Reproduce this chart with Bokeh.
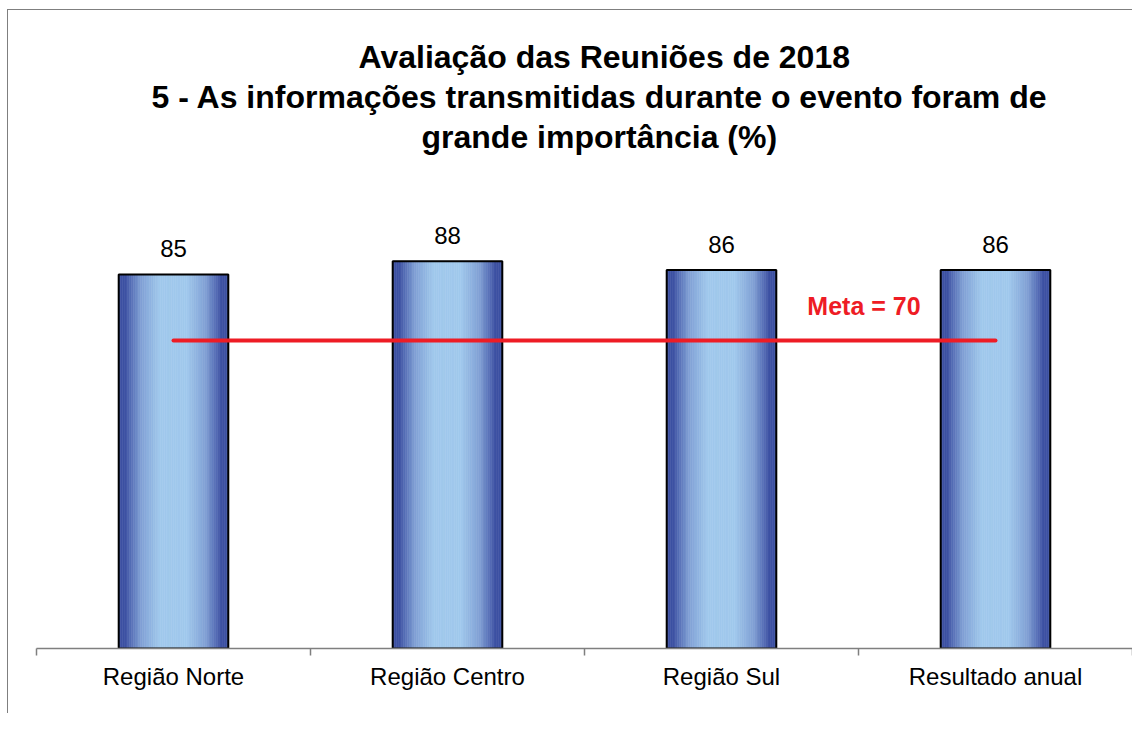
from bokeh.plotting import figure
from bokeh.models import Title, FixedTicker, ColumnDataSource, LinearAxis, Range1d
from bokeh.core.properties import value
from bokeh.embed import file_html
from bokeh.resources import INLINE

title_lines = ["Avaliação das Reuniões de 2018",
               "5 - As informações transmitidas durante o evento foram de",
               "grande importância (%)"]
categories = ["Região Norte", "Região Centro", "Região Sul", "Resultado anual"]
values = [85, 88, 86, 86]
meta = 70
meta_label = "Meta = 70"

FONT = "Liberation Sans"
W = 1132
H = 713

p = figure(width=W, height=H, output_backend="svg", toolbar_location=None,
           x_range=Range1d(0, len(categories)), y_range=Range1d(0, 100),
           y_axis_location=None, x_axis_location=None,
           min_border_left=36, min_border_right=0, min_border_top=208,
           min_border_bottom=65)
p.styles = {
    "background": "linear-gradient(#7f7f7f,#7f7f7f) 7px 9px / 1px 100% no-repeat, "
                  "linear-gradient(#7f7f7f,#7f7f7f) 7px 9px / 100% 1px no-repeat, white",
}
p.xgrid.visible = False
p.ygrid.visible = False
p.outline_line_color = None
p.background_fill_color = None
p.border_fill_color = None

# spacer between title and plot area, then the three title lines
spacer = Title(text=" ", text_font=FONT, text_font_size="10px", standoff=40)
p.add_layout(spacer, "above")
offsets = [385, 115, 322]   # left positions of lines 3, 2, 1 relative to the plot area
for txt, off in zip(reversed(title_lines), offsets):
    t = Title(text=txt, align="left", text_font=FONT, text_font_size="32px",
              text_font_style="bold", text_color="black", standoff=2, offset=off)
    p.add_layout(t, "above")

# axis
centers = [i + 0.5 for i in range(len(categories))]
ax = LinearAxis(ticker=FixedTicker(ticks=centers, minor_ticks=list(range(len(categories) + 1))),
                major_label_overrides={c: lab for c, lab in zip(centers, categories)})
ax.axis_line_color = "#7f7f7f"
ax.axis_line_width = 1.5
ax.major_tick_line_color = None
ax.minor_tick_line_color = "#7f7f7f"
ax.minor_tick_line_width = 1.5
ax.minor_tick_in = 0
ax.minor_tick_out = 7
ax.major_tick_in = 0
ax.major_tick_out = 7
ax.major_label_standoff = 7
ax.major_label_text_font = FONT
ax.major_label_text_font_size = "24px"
ax.major_label_text_color = "black"
p.add_layout(ax, "below")

# gradient bars
bar_w = 0.40
N = 60
dark = (0x3d, 0x51, 0xa3)
mid = (0x7f, 0x9e, 0xd4)
light = (0xa0, 0xc8, 0xec)

def col(t):
    # t: 0 at centre, 1 at edge
    if t < 0.25:
        a, b, u = light, light, 0
    elif t < 0.6:
        a, b, u = light, mid, (t - 0.25) / 0.35
    else:
        a, b, u = mid, dark, min(1.0, (t - 0.6) / 0.28)
    return "#%02x%02x%02x" % tuple(int(round(a[k] + (b[k] - a[k]) * u)) for k in range(3))

xs, tops, cols = [], [], []
for i, v in enumerate(values):
    for j in range(N):
        off = -bar_w / 2 + (j + 0.5) * bar_w / N
        xs.append(centers[i] + off)
        tops.append(v)
        cols.append(col(abs(off) / (bar_w / 2)))
strip_src = ColumnDataSource(dict(x=xs, top=tops, color=cols))
p.vbar(x="x", top="top", bottom=0, width=bar_w / N * 1.05, source=strip_src,
       fill_color="color", line_color="color", line_width=0.5)

bar_src = ColumnDataSource(dict(x=centers, top=values, label=[str(v) for v in values]))
p.vbar(x="x", top="top", bottom=0, width=bar_w, source=bar_src,
       fill_color=None, line_color="black", line_width=2)

p.text(x="x", y="top", text="label", source=bar_src, text_align="center",
       text_baseline="alphabetic", y_offset=-26, text_font=value(FONT),
       text_font_size="24px", text_color="black")

# meta line
meta_src = ColumnDataSource(dict(x0=[centers[0]], x1=[centers[-1]], y=[meta]))
p.segment(x0="x0", y0="y", x1="x1", y1="y", source=meta_src, line_color="#ee1c25",
          line_width=4, line_cap="round")
p.text(x=[centers[-1] - 0.48], y=[meta], text=[meta_label], text_align="center",
       text_baseline="alphabetic", y_offset=-35, text_font=value(FONT),
       text_font_size="25px", text_font_style="bold", text_color="#ee1c25")

open("out.html", "w").write(file_html(p, INLINE))
